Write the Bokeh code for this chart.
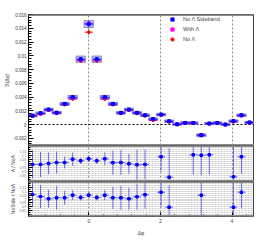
import numpy as np
from bokeh.plotting import figure
from bokeh.layouts import column
from bokeh.models import (ColumnDataSource, Range1d, FixedTicker, Span, Label,
                          Legend, LegendItem)
from bokeh.embed import file_html
from bokeh.resources import INLINE

# ---------------- data ----------------
n_bins = 28
bin_index = list(range(-7, 21))

no_lambda_sideband = [0.00130, 0.00165, 0.00218, 0.00172, 0.00300, 0.00397, 0.00950,
                      0.01460, 0.00950, 0.00397, 0.00300, 0.00170, 0.00218, 0.00170,
                      0.00135, 0.00080, 0.00145, 0.00048, 0.00004, 0.00023, 0.00023,
                      -0.00156, 0.00015, 0.00023, 0.00000, 0.00050, 0.00135, 0.00030]
with_lambda = [0.00125, 0.00155, 0.00212, 0.00166, 0.00295, 0.00385, 0.00940,
               0.01470, 0.00940, 0.00385, 0.00295, 0.00166, 0.00212, 0.00166,
               0.00132, 0.00070, 0.00142, 0.00044, 0.00002, 0.00021, 0.00021,
               -0.00152, 0.00013, 0.00021, 0.00000, 0.00046, 0.00132, 0.00028]
no_lambda = [0.00120, 0.00152, 0.00208, 0.00162, 0.00290, 0.00370, 0.00928,
             0.01343, 0.00928, 0.00370, 0.00290, 0.00162, 0.00208, 0.00162,
             0.00128, 0.00060, 0.00138, 0.00040, 0.00000, 0.00020, 0.00020,
             -0.00150, 0.00010, 0.00020, 0.00000, 0.00040, 0.00128, 0.00026]
stat_err = [0.00022, 0.00022, 0.00022, 0.00022, 0.00024, 0.00026, 0.00032,
            0.00038, 0.00032, 0.00026, 0.00024, 0.00022, 0.00022, 0.00022,
            0.00022, 0.00022, 0.00022, 0.00022, 0.00022, 0.00022, 0.00022,
            0.00022, 0.00022, 0.00022, 0.00022, 0.00022, 0.00022, 0.00022]
sideband_sys = [0.00018, 0.00018, 0.00020, 0.00018, 0.00022, 0.00026, 0.00045,
                0.00050, 0.00045, 0.00026, 0.00022, 0.00018, 0.00020, 0.00018,
                0.00018, 0.00016, 0.00018, 0.00016, 0.00016, 0.00016, 0.00016,
                0.00020, 0.00016, 0.00016, 0.00016, 0.00016, 0.00018, 0.00016]

nan = float("nan")
ratio_lambda = [0.988, 0.988, 1.000, 1.012, 1.012, 1.053, 1.033, 1.057, 1.033, 1.057,
                1.009, 1.012, 0.996, 0.984, 0.988, nan, 1.082, 0.833, nan, nan,
                1.106, 1.101, 1.106, nan, nan, 0.838, 1.082, nan]
ratio_lambda_err = [0.171, 0.153, 0.134, 0.134, 0.073, 0.082, 0.037, 0.040, 0.037, 0.079,
                    0.147, 0.153, 0.122, 0.183, 0.183, nan, 0.177, 0.354, nan, nan,
                    0.244, 0.244, 0.244, nan, nan, 0.367, 0.208, nan]
ratio_side = [1.057, 1.031, 1.003, 1.015, 1.015, 1.048, 1.019, 1.048, 1.019, 1.048,
              1.015, 1.015, 1.003, 1.028, 1.053, nan, 1.085, 0.897, nan, nan,
              nan, 1.048, nan, nan, nan, 0.897, 1.085, nan]
ratio_side_err = [0.151, 0.145, 0.113, 0.147, 0.088, 0.063, 0.038, 0.038, 0.038, 0.063,
                  0.138, 0.151, 0.138, 0.163, 0.176, nan, 0.182, 0.277, nan, nan,
                  nan, 0.314, nan, nan, nan, 0.314, 0.201, nan]

x_ticks = [0, 2, 4]
top_y_ticks = [-0.002, 0.0, 0.002, 0.004, 0.006, 0.008, 0.010, 0.012, 0.014, 0.016]
top_y_labels = ["-0.002", "0", "0.002", "0.004", "0.006", "0.008", "0.01", "0.012", "0.014", "0.016"]
ratio_ticks = [0.85, 0.90, 0.95, 1.00, 1.05, 1.10, 1.15]
ratio_labels = ["0.85", "0.9", "0.95", "1", "1.05", "1.1", "1.15"]

title_text = "PionProton Data 0Vc200_dphi"
legend_labels = ["No \u039b Sideband", "With \u039b", "No \u039b"]

# ---------------- helpers ----------------
bw = 2 * np.pi / n_bins
phi = np.array(bin_index) * bw
FONT = "Liberation Sans"
x_range = Range1d(phi[0] - bw / 2, phi[-1] + bw / 2)


def base_fig(h, yr, top, bottom):
    p = figure(width=258, height=h, x_range=x_range, y_range=yr,
               output_backend="svg", toolbar_location=None,
               min_border_left=18, min_border_right=5,
               min_border_top=top, min_border_bottom=bottom)
    p.outline_line_color = "#444444"
    p.outline_line_width = 1
    p.xgrid.ticker = FixedTicker(ticks=x_ticks)
    p.xgrid.grid_line_color = "#888888"
    p.xgrid.grid_line_dash = "2 2"
    p.xgrid.grid_line_width = 1
    p.yaxis.axis_line_color = "black"
    p.yaxis.major_tick_in = 5
    p.yaxis.major_tick_out = 0
    p.yaxis.minor_tick_in = 3
    p.yaxis.minor_tick_out = 0
    p.yaxis.major_label_standoff = 2
    p.yaxis.axis_label_standoff = 1
    p.yaxis.axis_label_text_font = FONT
    p.yaxis.axis_label_text_font_style = "normal"
    p.yaxis.axis_label_text_font_size = "5px"
    p.yaxis.major_label_text_font = FONT
    p.yaxis.major_label_text_color = "#333333"
    return p


def draw_series(p, x, y, e, color, alpha=1.0, lw=1):
    y = np.asarray(y, dtype=float)
    e = np.asarray(e, dtype=float)
    src = ColumnDataSource(dict(x=x, y=y, lo=y - e, hi=y + e,
                                l=x - bw / 2, r=x + bw / 2))
    p.segment("x", "lo", "x", "hi", source=src, line_color=color, line_width=lw, line_alpha=alpha)
    p.segment("l", "y", "r", "y", source=src, line_color=color, line_width=lw, line_alpha=alpha)
    return src


def band(p):
    for loc in (p.y_range.start, p.y_range.end):
        p.add_layout(Span(location=loc, dimension="width", line_color="#8c8c8c", line_width=3))


# ---------------- top panel ----------------
p1 = base_fig(145, Range1d(-0.00305, 0.016), 14, 0)
p1.xaxis.visible = False
p1.ygrid.ticker = FixedTicker(ticks=[0.0])
p1.ygrid.grid_line_color = "black"
p1.ygrid.grid_line_dash = "2 2"
p1.yaxis.ticker = FixedTicker(ticks=top_y_ticks,
                              minor_ticks=list(np.arange(-0.0028, 0.01601, 0.0004)))
p1.yaxis.major_label_overrides = {t: s for t, s in zip(top_y_ticks, top_y_labels)}
p1.yaxis.major_label_text_font_size = "4.5px"
p1.yaxis.axis_label = "B(\u0394\u03c6)"

y_sb = np.array(no_lambda_sideband)
sys = np.array(sideband_sys)
p1.quad(left=phi - bw / 2 - 0.6 * bw / 8, right=phi + bw / 2 + 0.6 * bw / 8,
        bottom=y_sb - sys, top=y_sb + sys,
        fill_color="#b8b8e8", fill_alpha=0.8, line_color="#8080c8", line_width=1)

draw_series(p1, phi, no_lambda, stat_err, "#ff0000")
r_red = p1.scatter(phi, no_lambda, marker="circle", size=2.5, color="#ff0000")
draw_series(p1, phi, with_lambda, stat_err, "#ff00ff")
r_mag = p1.scatter(phi, with_lambda, marker="square", size=2.5, color="#ff00ff")
draw_series(p1, phi, no_lambda_sideband, stat_err, "#0000ff")
r_blue = p1.scatter(phi, no_lambda_sideband, marker="square", size=3, color="#0000ff")

legend = Legend(items=[LegendItem(label=legend_labels[0], renderers=[r_blue]),
                       LegendItem(label=legend_labels[1], renderers=[r_mag]),
                       LegendItem(label=legend_labels[2], renderers=[r_red])],
                location=(140, 101), border_line_color=None, background_fill_alpha=0,
                padding=0, spacing=0, margin=0, label_height=10, glyph_height=10,
                glyph_width=8, label_standoff=7, label_text_font=FONT,
                label_text_font_size="5.5px")
p1.add_layout(legend)

p1.add_layout(Label(x=1.07, y=0.01716, text=title_text, text_align="center",
                    text_baseline="middle", text_font=FONT, text_font_size="5.5px",
                    text_font_style="bold"))
band(p1)


def ratio_fig(h, top, bottom, yvals, yerr, label):
    p = base_fig(h, Range1d(0.78, 1.22), top, bottom)
    p.yaxis.ticker = FixedTicker(ticks=ratio_ticks,
                                 minor_ticks=list(np.arange(0.8, 1.2001, 0.025)))
    p.yaxis.major_label_overrides = {t: s for t, s in zip(ratio_ticks, ratio_labels)}
    p.yaxis.major_label_text_font_size = "3.5px"
    p.yaxis.major_label_text_color = "#777777"
    p.yaxis.major_tick_in = 4
    p.yaxis.minor_tick_in = 2
    p.yaxis.axis_label = label
    p.ygrid.ticker = FixedTicker(ticks=list(np.arange(0.8, 1.2001, 0.025)))
    p.ygrid.grid_line_color = "#c8c8c8"
    p.ygrid.grid_line_dash = "2 1"
    draw_series(p, phi, yvals, yerr, "#3a3ae0", alpha=0.75)
    p.scatter(phi, yvals, marker="square", size=2.5, color="#0000ff")
    band(p)
    return p


p2 = ratio_fig(36, 0, 0, ratio_lambda, ratio_lambda_err, "\u039b / No\u039b")
p2.xaxis.visible = False

p3 = ratio_fig(59, 0, 24, ratio_side, ratio_side_err, "NoSide / No\u039b")
p3.xaxis.ticker = FixedTicker(ticks=x_ticks, minor_ticks=list(np.arange(-1.6, 4.61, 0.4)))
p3.xaxis.major_tick_in = 4
p3.xaxis.major_tick_out = 0
p3.xaxis.minor_tick_in = 2
p3.xaxis.minor_tick_out = 0
p3.xaxis.axis_line_color = None
p3.xaxis.major_label_standoff = 2
p3.xaxis.major_label_text_font = FONT
p3.xaxis.major_label_text_font_size = "5px"
p3.xaxis.axis_label = "\u0394\u03c6"
p3.xaxis.axis_label_standoff = 4
p3.xaxis.axis_label_text_font = FONT
p3.xaxis.axis_label_text_font_style = "normal"
p3.xaxis.axis_label_text_font_size = "5px"

layout = column(p1, p2, p3, spacing=0)

open("out.html", "w").write(file_html(layout, INLINE))
